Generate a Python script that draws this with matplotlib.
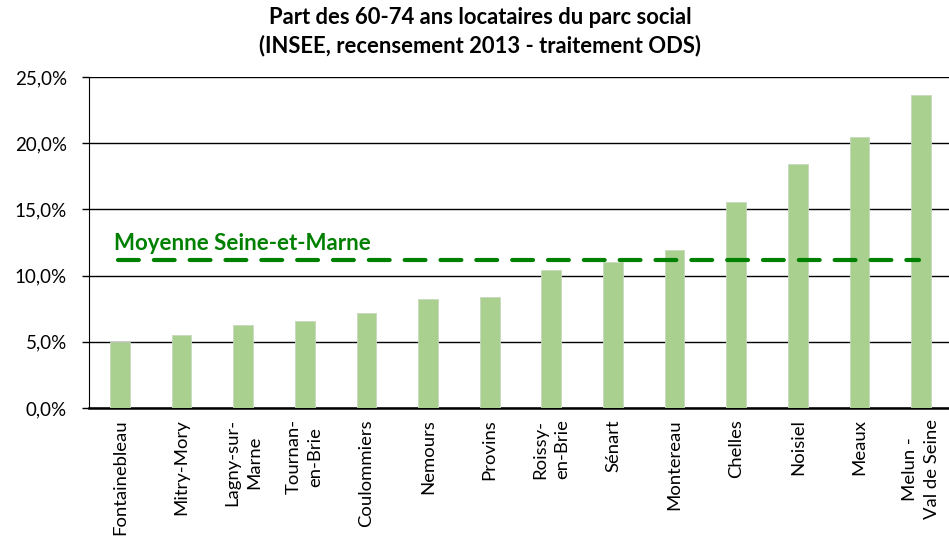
import matplotlib.pyplot as plt
from matplotlib.ticker import FuncFormatter

plt.rcParams['font.family'] = ['Lato', 'DejaVu Sans']

communes = ['Fontainebleau', 'Mitry-Mory', 'Lagny-sur-\nMarne', 'Tournan-\nen-Brie',
            'Coulommiers', 'Nemours', 'Provins', 'Roissy-\nen-Brie', 'Sénart',
            'Montereau', 'Chelles', 'Noisiel', 'Meaux', 'Melun -\nVal de Seine']
part_60_74 = [5.0, 5.5, 6.3, 6.55, 7.2, 8.2, 8.4, 10.4, 11.05, 11.95, 15.55, 18.45, 20.45, 23.65]
moyenne_77 = 11.15

fig = plt.figure(figsize=(9.49, 5.46), dpi=100)
ax = fig.add_axes([89/949, 138/546, 863/949, 331/546])

x = range(len(communes))
ax.bar(x, part_60_74, width=0.32, color='#A9D08E', edgecolor='#C8D8BE', linewidth=0.6, zorder=3)

ax.plot([-0.03, 12.97], [moyenne_77, moyenne_77], color='#008000', lw=3,
        dashes=(5, 3.6), dash_capstyle='round', zorder=4)
ax.text(-0.1, moyenne_77 + 1.25, 'Moyenne Seine-et-Marne', color='#008000',
        fontsize=16, fontweight='bold', va='center', ha='left')

ax.set_xlim(-0.5, 13.5)
ax.set_ylim(0, 25)
ax.set_yticks([0, 5, 10, 15, 20, 25])
ax.yaxis.set_major_formatter(FuncFormatter(lambda v, p: f'{v:.1f}%'.replace('.', ',')))
ax.yaxis.grid(True, color='black', lw=1, zorder=0)
ax.set_xticks(list(x))
ax.set_xticklabels(communes, rotation=90, va='top', ha='center', multialignment='center',
                   linespacing=1.45)
ax.tick_params(axis='x', length=0, pad=8, labelsize=13.3)
ax.tick_params(axis='y', length=5, width=1, labelsize=13.5, pad=11)

for s in ['top', 'right']:
    ax.spines[s].set_visible(False)
ax.spines['left'].set_color('black')
ax.spines['bottom'].set_linewidth(1.8)

fig.text(0.506, 0.942, 'Part des 60-74 ans locataires du parc social\n(INSEE, recensement 2013 - traitement ODS)',
         ha='center', va='center', fontsize=15.8, fontweight='bold', linespacing=1.35)

fig.savefig('out.png', dpi=100)
